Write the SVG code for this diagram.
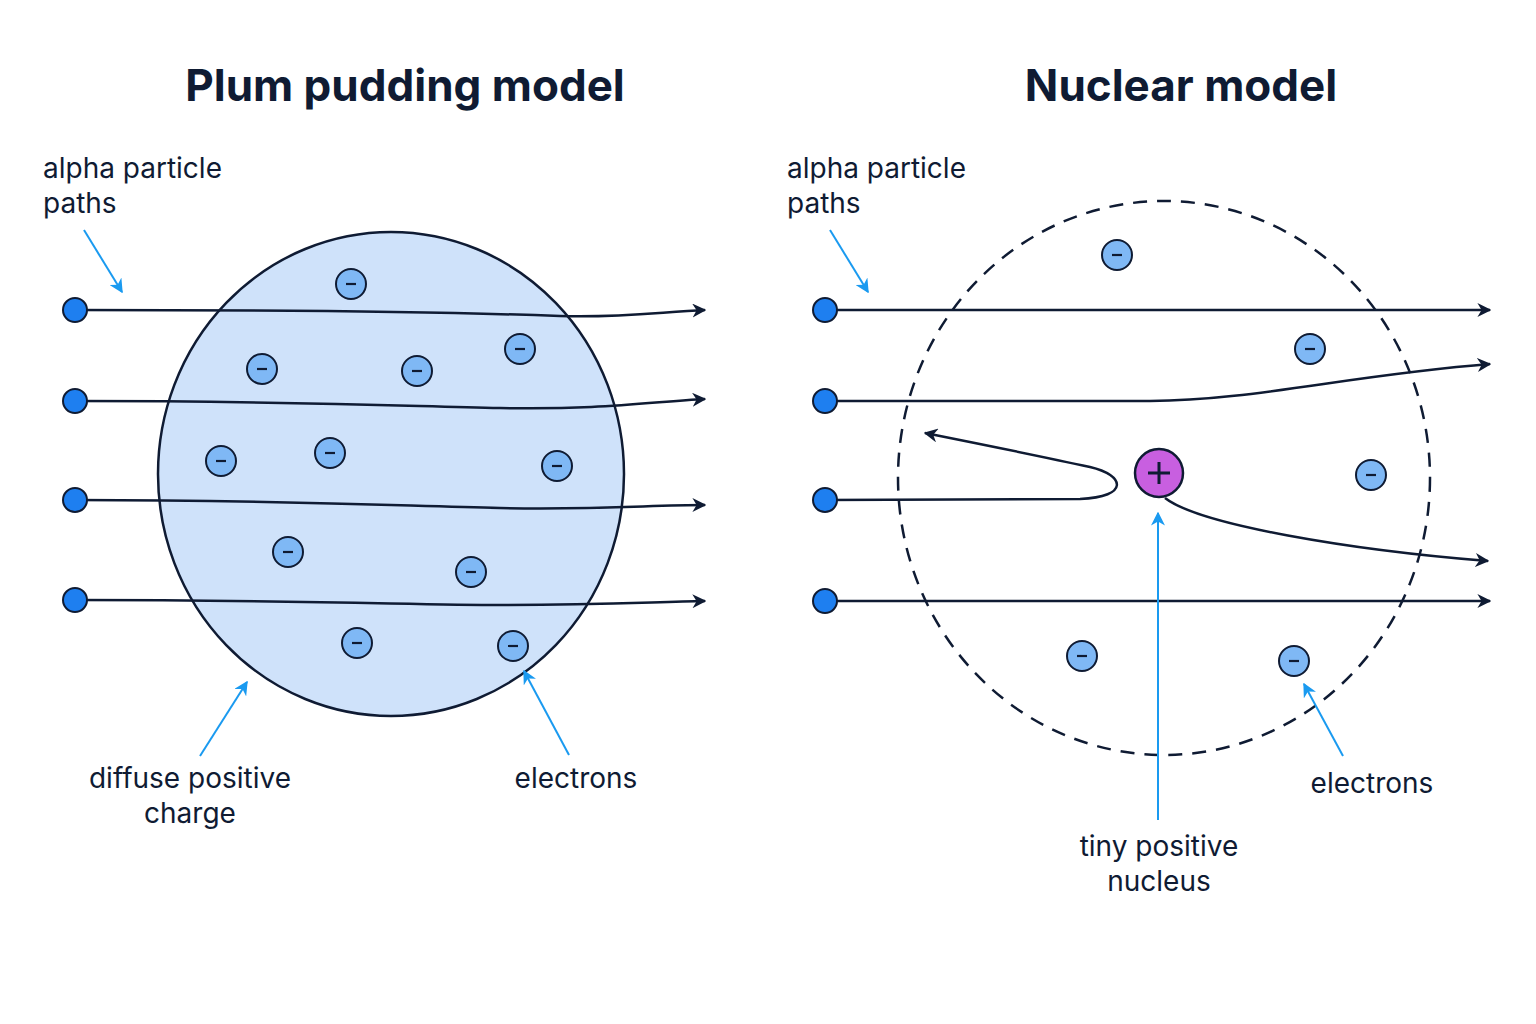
<svg xmlns="http://www.w3.org/2000/svg" width="1536" height="1024" viewBox="0 0 1536 1024">
<defs>
<marker id="ah" viewBox="0 0 10 10" refX="9" refY="5" markerWidth="14" markerHeight="14" markerUnits="userSpaceOnUse" orient="auto"><path d="M0,0 L10,5 L0,10 L3,5 z" fill="#0f1b33"/></marker>
<marker id="ab" viewBox="0 0 10 10" refX="9" refY="5" markerWidth="14" markerHeight="14" markerUnits="userSpaceOnUse" orient="auto"><path d="M0,0 L10,5 L0,10 L3,5 z" fill="#1a9af0"/></marker>
<g id="e"><circle r="15" fill="#7fb8f5" stroke="#0f1b33" stroke-width="2"/><line x1="-5" y1="0" x2="5" y2="0" stroke="#0f1b33" stroke-width="2.2"/></g>
</defs>
<style>
.t{font-family:Inter,"Noto Sans",sans-serif;font-weight:700;font-size:44px;fill:#0f1b33;text-anchor:middle}
.l{font-family:Inter,"Noto Sans",sans-serif;font-size:28px;fill:#0f1b33}
.p{fill:none;stroke:#0f1b33;stroke-width:2.5;marker-end:url(#ah)}
.b{fill:none;stroke:#1a9af0;stroke-width:2;marker-end:url(#ab)}
.a{fill:#1e7ff0;stroke:#0f1b33;stroke-width:2}
</style>
<rect width="1536" height="1024" fill="#fff"/>
<text class="t" x="405" y="101">Plum pudding model</text>
<text class="t" x="1181" y="101">Nuclear model</text>
<g id="pudding"><ellipse cx="391" cy="474" rx="233" ry="242" fill="#cfe2fa" stroke="#0f1b33" stroke-width="2.5"/></g>
<g id="electrons-left">
<use href="#e" x="351" y="284"/><use href="#e" x="262" y="369"/><use href="#e" x="417" y="371"/><use href="#e" x="520" y="349"/>
<use href="#e" x="221" y="461"/><use href="#e" x="330" y="453"/><use href="#e" x="557" y="466"/><use href="#e" x="288" y="552"/>
<use href="#e" x="471" y="572"/><use href="#e" x="357" y="643"/><use href="#e" x="513" y="646"/>
</g>
<g id="atom-right"><ellipse cx="1164" cy="478" rx="266" ry="277" fill="none" stroke="#0f1b33" stroke-width="2.5" stroke-dasharray="14 10"/></g>
<g id="electrons-right">
<use href="#e" x="1117" y="255"/><use href="#e" x="1310" y="349"/><use href="#e" x="1371" y="475"/><use href="#e" x="1082" y="656"/><use href="#e" x="1294" y="661"/>
</g>
<g id="connectors">
<path class="p" d="M75,310 C300,310 450,312 560,316 C620,318 660,312 705,310"/>
<path class="p" d="M75,401 C300,401 400,406 500,408 C600,410 650,402 705,399"/>
<path class="p" d="M75,500 C300,500 400,506 500,508 C600,510 650,505 705,505"/>
<path class="p" d="M75,600 C300,600 420,605 500,605 C600,605 650,602 705,601"/>
<path class="p" d="M825,310 L1490,310"/>
<path class="p" d="M825,401 L1150,401 C1250,401 1350,375 1490,364"/>
<path class="p" d="M825,500 L1080,499 C1130,497 1125,475 1090,467 C1040,456 980,444 925,433"/>
<path class="p" d="M1165,498 C1200,525 1350,550 1488,561"/>
<path class="p" d="M825,601 L1490,601"/>
<path class="b" d="M84,230 L122,292"/>
<path class="b" d="M830,230 L868,292"/>
<path class="b" d="M200,756 L247,682"/>
<path class="b" d="M569,755 L524,671"/>
<path class="b" d="M1158,820 L1158,513"/>
<path class="b" d="M1343,756 L1304,684"/>
</g>
<g id="alphas">
<circle class="a" cx="75" cy="310" r="12"/><circle class="a" cx="75" cy="401" r="12"/><circle class="a" cx="75" cy="500" r="12"/><circle class="a" cx="75" cy="600" r="12"/>
<circle class="a" cx="825" cy="310" r="12"/><circle class="a" cx="825" cy="401" r="12"/><circle class="a" cx="825" cy="500" r="12"/><circle class="a" cx="825" cy="601" r="12"/>
</g>
<g id="nucleus"><circle cx="1159" cy="473" r="24" fill="#c85fe0" stroke="#0f1b33" stroke-width="2.5"/><path d="M1148,473 H1170 M1159,462 V484" stroke="#0f1b33" stroke-width="3"/></g>
<g id="labels">
<text class="l" x="43" y="178">alpha particle</text><text class="l" x="43" y="213">paths</text>
<text class="l" x="787" y="178">alpha particle</text><text class="l" x="787" y="213">paths</text>
<text class="l" x="190" y="788" text-anchor="middle">diffuse positive</text><text class="l" x="190" y="823" text-anchor="middle">charge</text>
<text class="l" x="576" y="788" text-anchor="middle">electrons</text>
<text class="l" x="1372" y="793" text-anchor="middle">electrons</text>
<text class="l" x="1159" y="856" text-anchor="middle">tiny positive</text><text class="l" x="1159" y="891" text-anchor="middle">nucleus</text>
</g>
</svg>
